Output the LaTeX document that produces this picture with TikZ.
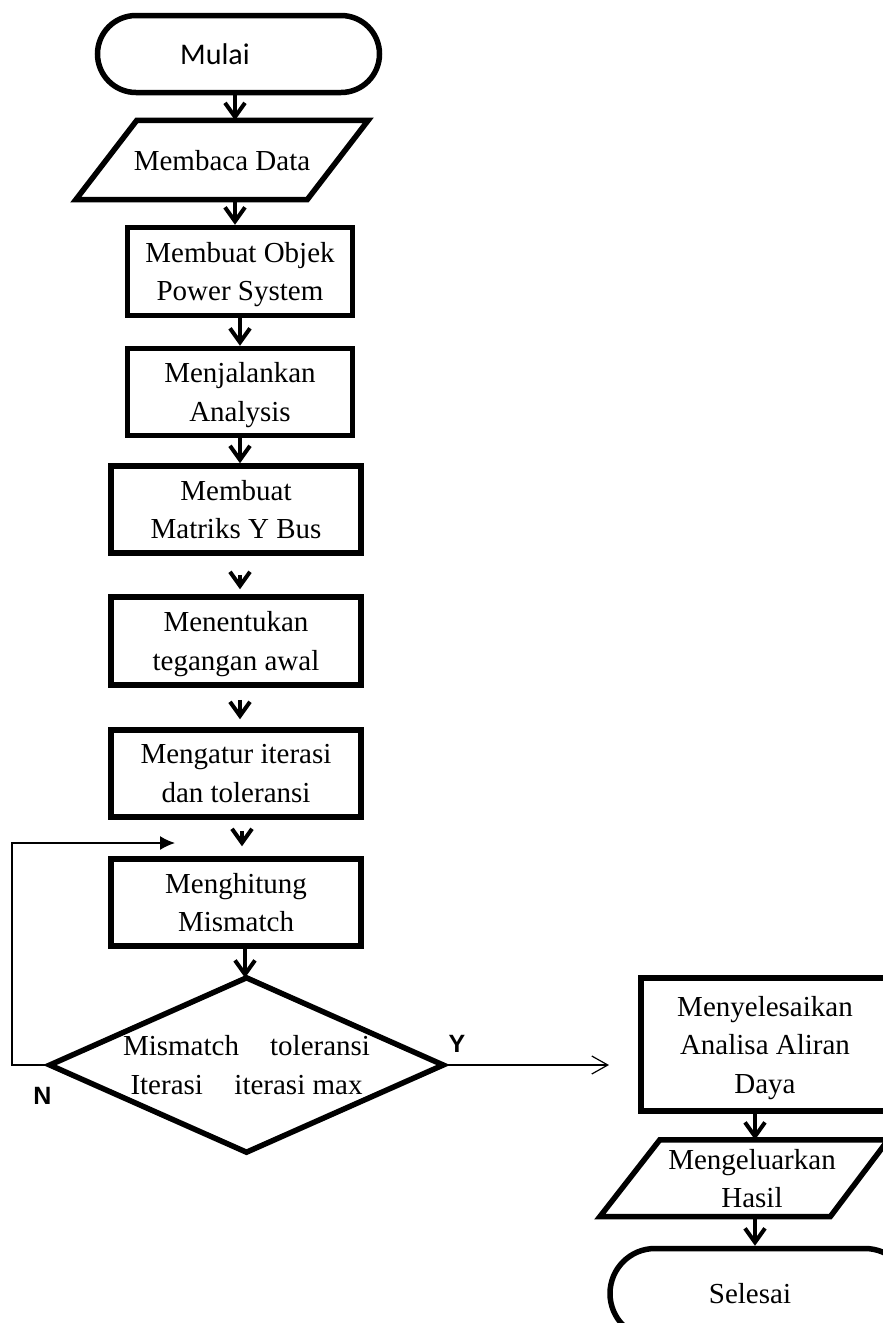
\documentclass[tikz,border=0pt]{standalone}
\usepackage{fontspec}
\setmainfont{Liberation Serif}
\newfontfamily\calibrifont{Carlito}
\newfontfamily\arialfont{Liberation Sans}
\usetikzlibrary{arrows.meta}
\begin{document}
\begin{tikzpicture}[x=1pt,y=-1pt,
  box/.style={draw, line width=5.5pt, inner sep=0pt, align=center,
    font=\fontsize{29}{38.5}\selectfont, text depth=0pt},
  ghost/.style={inner sep=0pt, align=center,
    font=\fontsize{29}{38.5}\selectfont, text depth=0pt},
  outline/.style={line width=5.5pt, line join=miter},
  flow/.style={line width=4pt, -{Straight Barb[length=14pt,width=20pt]}},
  loopline/.style={line width=1.5pt, -{Latex[length=15pt,width=14pt]}},
  yesline/.style={line width=1.2pt, -{Straight Barb[length=16pt,width=18pt]}},
  lbl/.style={font=\arialfont\bfseries\fontsize{25}{30}\selectfont, inner sep=0pt}]

\useasboundingbox (0,0) rectangle (883,1323);
\clip (0,0) rectangle (883,1323);

% terminals and process boxes
\node[box, rounded corners=38.5pt, minimum width=282pt, minimum height=77pt,
  font=\calibrifont\fontsize{30}{36}\selectfont] (mulai) at (238.5,54) {Mulai\hspace{47pt}};

\node[ghost, minimum width=292pt, minimum height=79pt] (baca) at (222,160) {Membaca Data};
\draw[outline] ([xshift=61pt]baca.north west) -- (baca.north east)
  -- ([xshift=-61pt]baca.south east) -- (baca.south west) -- cycle;

\node[box, minimum width=225pt, minimum height=88pt] (objek) at (240,271.5) {Membuat Objek\\Power System};
\node[box, minimum width=225pt, minimum height=87pt] (jalan) at (240,392) {Menjalankan\\Analysis};
\node[box, minimum width=250pt, minimum height=87pt] (ybus) at (236,509.5) {Membuat\\Matriks Y Bus};
\node[box, minimum width=250pt, minimum height=88pt] (awal) at (236,641) {Menentukan\\tegangan awal};
\node[box, minimum width=250pt, minimum height=87pt] (atur) at (236,773.5) {Mengatur iterasi\\dan toleransi};
\node[box, minimum width=250pt, minimum height=87pt] (hitung) at (236,902.5) {Menghitung\\Mismatch};

% decision
\node[ghost, minimum width=393pt, minimum height=174pt] (dec) at (246.5,1065)
  {\hbox to 247pt{Mismatch\hfill toleransi}\\\hbox to 232pt{Iterasi\hfill iterasi max}};
\draw[outline] (dec.north) -- (dec.east) -- (dec.south) -- (dec.west) -- cycle;

% right column
\node[box, minimum width=248pt, minimum height=133pt] (selesaikan) at (765,1044.5)
  {Menyelesaikan\\Analisa Aliran\\Daya};

\node[ghost, minimum width=304pt, minimum height=76.5pt] (keluar) at (752,1178.25)
  {Mengeluarkan\\Hasil};
\draw[outline] ([xshift=60pt]keluar.north west) -- ([xshift=-16pt]keluar.north east)
  -- ([xshift=-74pt]keluar.south east) -- (keluar.south west) -- cycle;

\node[box, rounded corners=45pt, minimum width=300pt, minimum height=90pt] (selesai) at (760,1293.5)
  {Selesai\hspace{20pt}};

% connectors
\draw[flow] ([xshift=-3.5pt]mulai.south) -- ([xshift=13pt]baca.north);
\draw[flow] ([xshift=13pt]baca.south) -- ([xshift=-5pt]objek.north);
\draw[flow] (objek.south) -- (jalan.north);
\draw[flow] (jalan.south) -- ([xshift=4pt]ybus.north);
\draw[flow, shorten <=19pt, shorten >=5pt] ([xshift=4pt]ybus.south) -- ([xshift=4pt]awal.north);
\draw[flow, shorten <=12pt, shorten >=8pt] ([xshift=4pt]awal.south) -- ([xshift=4pt]atur.north);
\draw[flow, shorten <=11pt, shorten >=10pt] ([xshift=6pt]atur.south) -- ([xshift=6pt]hitung.north);
\draw[flow] ([xshift=9pt]hitung.south) -- ([xshift=-1.5pt]dec.north);
\draw[flow] ([xshift=-10pt]selesaikan.south) -- ([xshift=3pt]keluar.north);
\draw[flow] ([xshift=3pt]keluar.south) -- ([xshift=-5pt]selesai.north);

\coordinate (loopin) at (175,843);
\draw[loopline] (dec.west) -- ++(-38,0) |- (loopin);

\coordinate (yin) at (609,1065);
\draw[yesline] (dec.east) -- (yin);

\node[lbl] (ylab) at (457,1044) {Y};
\node[lbl] (nlab) at (42.5,1096) {N};
\end{tikzpicture}
\end{document}
